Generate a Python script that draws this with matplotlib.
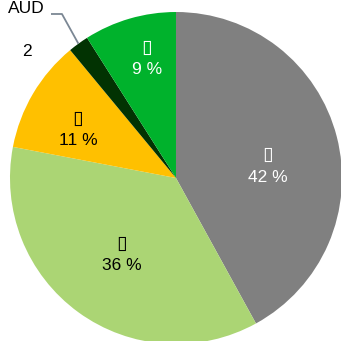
import numpy as np
import matplotlib
import matplotlib.pyplot as plt

matplotlib.rc('font', family=['Liberation Sans', 'DejaVu Sans'], size=12.5)

# slices, clockwise from 12 o'clock
shares = [42, 36, 11, 2, 9]
names = ['\u25af', '\u25af', '\u25af', 'AUD', '\u25af']
colors = ['#808080', '#abd574', '#ffc000', '#023302', '#00b22c']
text_colors = ['white', 'black', 'black', 'black', 'white']
# centre of each inside label block (None = label outside)
label_xy = [(0.554, 0.072), (-0.325, -0.464), (-0.590, 0.289), None, (-0.175, 0.717)]

fig = plt.figure(figsize=(3.41, 3.41), dpi=100)
ax = fig.add_axes([0.0293, -0.0088, 0.9736, 0.9736])

wedges, _ = ax.pie(shares, colors=colors, startangle=90, counterclock=False,
                   radius=1.0, wedgeprops=dict(linewidth=0))
ax.set_xlim(-1, 1)
ax.set_ylim(-1, 1)
ax.set_aspect('equal')
ax.axis('off')

for w, name, pct, tc, xy in zip(wedges, names, shares, text_colors, label_xy):
    if xy is None:
        # small slice: label outside with a leader line to the rim
        mid = np.deg2rad((w.theta1 + w.theta2) / 2)
        ex, ey = np.cos(mid), np.sin(mid)
        ax.plot([-0.753, -0.687, ex], [0.988, 0.988, ey], color='#7b8794',
                lw=1.3, clip_on=False, solid_capstyle='butt')
        ax.text(-0.904, 1.024, name, ha='center', va='center', clip_on=False)
        ax.text(-0.898, 0.765, str(pct), ha='center', va='center')
        continue
    x, y = xy
    ax.text(x, y + 0.068, name, ha='center', va='center', color=tc,
            family=['Noto Sans CJK SC', 'DejaVu Sans'], fontsize=14)
    ax.text(x, y - 0.066, f'{pct} %', ha='center', va='center', color=tc)

fig.savefig('out.png', dpi=100)
